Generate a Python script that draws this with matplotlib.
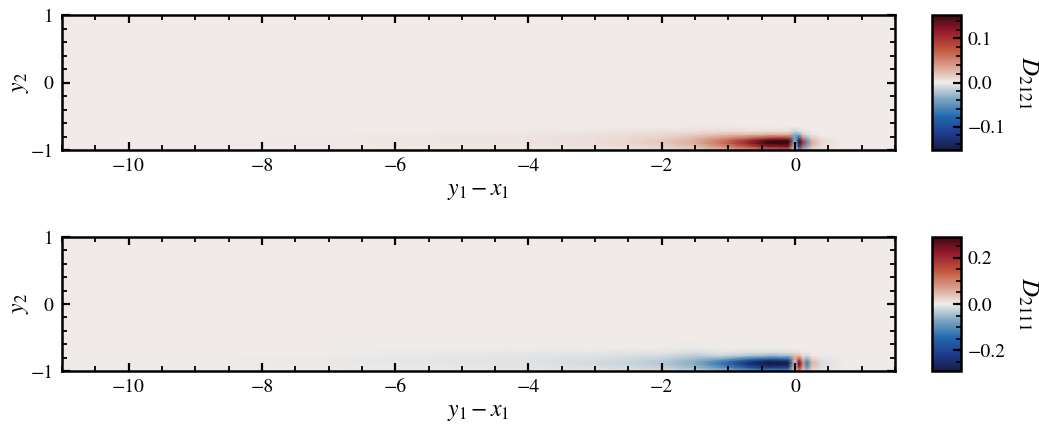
import matplotlib
matplotlib.use("Agg")
import matplotlib.pyplot as plt
import numpy as np
from matplotlib.colors import LinearSegmentedColormap
from matplotlib.ticker import MultipleLocator, FuncFormatter

plt.rcParams['font.family'] = ['STIXGeneral', 'DejaVu Serif']
plt.rcParams['mathtext.fontset'] = 'stix'
plt.rcParams['axes.unicode_minus'] = True

# grid nodes (y1 - x1 along the wall, y2 across the channel)
x_nodes = [-11, -8.5, -7, -5.5, -4, -3, -2.5, -2, -1.5, -1.1, -0.7, -0.4, -0.1,
           0.0, 0.06, 0.12, 0.18, 0.25, 0.4, 0.7, 1.5]
y_nodes = [-1.0, -0.95, -0.9, -0.86, -0.82, -0.77, -0.72, -0.65, -0.5, 1.0]

# D_2121: one profile (over y_nodes) per x node
d2121_cols = [
    [0, 0, 0, 0, 0, 0, 0, 0, 0, 0],
    [0, 0.001, 0.001, 0.001, 0.001, 0.001, 0, 0, 0, 0],
    [0.001, 0.001, 0.002, 0.002, 0.002, 0.001, 0.001, 0, 0, 0],
    [0.001, 0.002, 0.003, 0.003, 0.003, 0.002, 0.001, 0.001, 0, 0],
    [0.002, 0.003, 0.004, 0.004, 0.004, 0.003, 0.002, 0.001, 0, 0],
    [0.003, 0.005, 0.007, 0.007, 0.006, 0.005, 0.003, 0.001, 0, 0],
    [0.004, 0.008, 0.010, 0.010, 0.009, 0.006, 0.004, 0.001, 0, 0],
    [0.007, 0.012, 0.016, 0.016, 0.013, 0.009, 0.005, 0.001, 0, 0],
    [0.012, 0.022, 0.030, 0.030, 0.024, 0.015, 0.007, 0.002, 0, 0],
    [0.024, 0.045, 0.060, 0.058, 0.042, 0.022, 0.008, 0.002, 0, 0],
    [0.040, 0.077, 0.110, 0.105, 0.065, 0.025, 0.007, 0, 0, 0],
    [0.056, 0.112, 0.160, 0.152, 0.088, 0.029, 0.008, 0, 0, 0],
    [0.060, 0.119, 0.170, 0.162, 0.094, 0.031, 0.006, 0, 0, 0],
    [0, -0.010, -0.020, -0.030, -0.040, -0.035, -0.012, 0, 0, 0],
    [-0.056, -0.112, -0.160, -0.152, -0.088, -0.035, -0.008, 0, 0, 0],
    [0.032, 0.063, 0.090, 0.086, 0.050, 0.016, 0.004, 0, 0, 0],
    [-0.018, -0.035, -0.050, -0.048, -0.028, -0.009, -0.002, 0, 0, 0],
    [0.011, 0.021, 0.030, 0.029, 0.017, 0.005, 0.001, 0, 0, 0],
    [0.003, 0.006, 0.008, 0.008, 0.004, 0.001, 0, 0, 0, 0],
    [0, 0.001, 0.001, 0.001, 0.001, 0, 0, 0, 0, 0],
    [0, 0, 0, 0, 0, 0, 0, 0, 0, 0],
]

# D_2111: one profile (over y_nodes) per x node
d2111_cols = [
    [0, 0, 0, 0, 0, 0, 0, 0, 0, 0],
    [-0.001, -0.001, -0.002, -0.002, -0.002, -0.001, -0.001, 0, 0, 0],
    [-0.001, -0.002, -0.003, -0.003, -0.003, -0.002, -0.001, 0, 0, 0],
    [-0.002, -0.004, -0.005, -0.006, -0.006, -0.004, -0.003, -0.001, 0, 0],
    [-0.004, -0.007, -0.009, -0.010, -0.009, -0.007, -0.005, -0.002, 0, 0],
    [-0.006, -0.012, -0.016, -0.016, -0.014, -0.010, -0.006, -0.002, 0, 0],
    [-0.010, -0.018, -0.024, -0.024, -0.020, -0.014, -0.008, -0.002, 0, 0],
    [-0.014, -0.026, -0.035, -0.035, -0.028, -0.018, -0.009, -0.002, 0, 0],
    [-0.026, -0.049, -0.065, -0.065, -0.052, -0.033, -0.014, -0.003, 0, 0],
    [-0.046, -0.091, -0.130, -0.124, -0.072, -0.023, -0.007, 0, 0, 0],
    [-0.084, -0.168, -0.240, -0.228, -0.132, -0.043, -0.012, 0, 0, 0],
    [-0.105, -0.210, -0.300, -0.285, -0.165, -0.054, -0.015, 0, 0, 0],
    [-0.098, -0.196, -0.280, -0.266, -0.154, -0.050, -0.012, 0, 0, 0],
    [0, 0.010, 0.020, 0.030, 0.050, 0.045, 0.015, 0, 0, 0],
    [0.091, 0.182, 0.260, 0.247, 0.143, 0.047, 0.010, 0, 0, 0],
    [0.028, 0.056, 0.080, 0.076, 0.044, 0.014, 0.003, 0, 0, 0],
    [-0.042, -0.084, -0.120, -0.114, -0.066, -0.022, -0.005, 0, 0, 0],
    [0.018, 0.035, 0.050, 0.048, 0.028, 0.009, 0.002, 0, 0, 0],
    [-0.005, -0.011, -0.015, -0.014, -0.008, -0.003, 0, 0, 0, 0],
    [0, 0, -0.001, -0.001, -0.001, 0, 0, 0, 0, 0],
    [0, 0, 0, 0, 0, 0, 0, 0, 0, 0],
]

panels = [
    (d2121_cols, 0.153, r'$D_{2121}$', 0.1, 0.02),
    (d2111_cols, 0.29, r'$D_{2111}$', 0.2, 0.05),
]

# diverging map, dark navy -> near white -> dark maroon
balance = LinearSegmentedColormap.from_list('balance', [
    (0.00, '#181c43'), (0.12, '#1f3a8c'), (0.25, '#2369b0'),
    (0.38, '#7fa8c0'), (0.50, '#f0ecea'), (0.62, '#d9a08c'),
    (0.75, '#c0543c'), (0.88, '#951a2c'), (1.00, '#3c0912')])

cb_fmt = FuncFormatter(lambda v, pos: f'{v:.1f}'.replace('-', '\u2212'))

fig = plt.figure(figsize=(10.39, 4.24), dpi=100)
ax_boxes = [[0.0597, 0.6462, 0.8017, 0.3184], [0.0597, 0.125, 0.8017, 0.316]]
cb_boxes = [[0.897, 0.6462, 0.0279, 0.3184], [0.897, 0.125, 0.0279, 0.316]]

for (cols, vlim, name, cmaj, cmin), abox, cbox in zip(panels, ax_boxes, cb_boxes):
    ax = fig.add_axes(abox)
    Z = np.array(cols).T
    mesh = ax.pcolormesh(x_nodes, y_nodes, Z, shading='gouraud', cmap=balance,
                         vmin=-vlim, vmax=vlim, rasterized=True)
    ax.set_xlim(-11, 1.5)
    ax.set_ylim(-1, 1)
    ax.set_xticks([-10, -8, -6, -4, -2, 0])
    ax.set_yticks([-1, 0, 1])
    ax.xaxis.set_minor_locator(MultipleLocator(0.5))
    ax.yaxis.set_minor_locator(MultipleLocator(0.2))
    ax.tick_params(which='both', direction='in', top=True, right=True, labelsize=14)
    ax.tick_params(which='major', length=6, width=1.6, pad=6)
    ax.tick_params(which='minor', length=3.5, width=1.3)
    for sp in ax.spines.values():
        sp.set_linewidth(1.8)
    ax.set_xlabel(r'$y_1 - x_1$', fontsize=17, labelpad=4)
    ax.set_ylabel(r'$y_2$', fontsize=17, labelpad=0)

    cax = fig.add_axes(cbox)
    cb = fig.colorbar(mesh, cax=cax)
    cb.set_ticks([-cmaj, 0, cmaj])
    cb.ax.yaxis.set_major_formatter(cb_fmt)
    cb.ax.yaxis.set_minor_locator(MultipleLocator(cmin))
    cb.ax.tick_params(which='both', direction='in', labelsize=14)
    cb.ax.tick_params(which='major', length=6, width=1.6, pad=5)
    cb.ax.tick_params(which='minor', length=3.5, width=1.2)
    cb.outline.set_linewidth(1.8)
    cb.set_label(name, rotation=270, fontsize=18, labelpad=24)

fig.savefig('out.png', dpi=100)
